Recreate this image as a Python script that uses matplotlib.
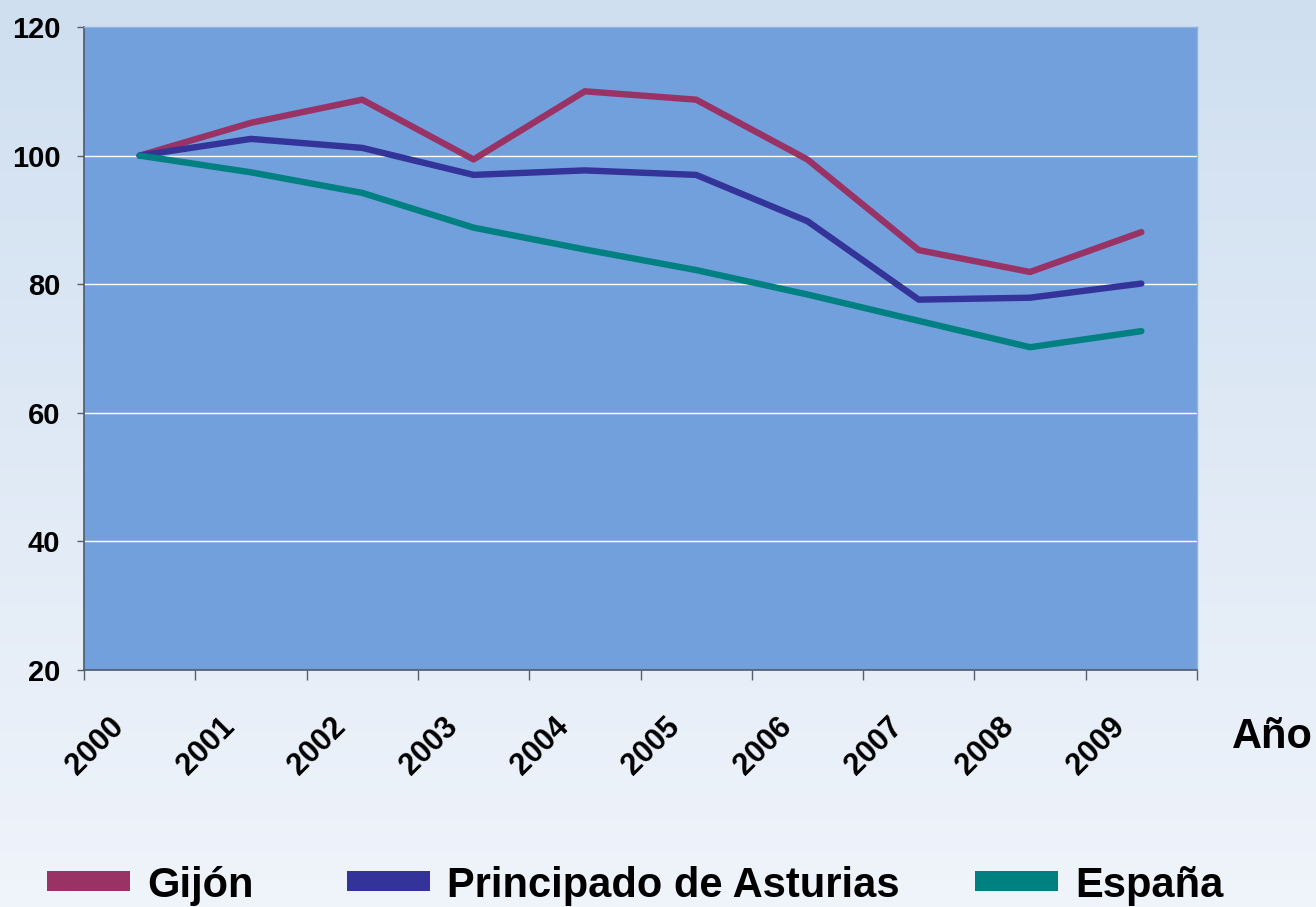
import numpy as np
import matplotlib
matplotlib.use("Agg")
import matplotlib.pyplot as plt
from matplotlib.patches import Rectangle
from matplotlib.transforms import ScaledTranslation

plt.rcParams['font.family'] = ['Liberation Sans', 'DejaVu Sans']
plt.rcParams['font.weight'] = 'bold'

# Índice base 2000 = 100
years = ['2000', '2001', '2002', '2003', '2004', '2005', '2006', '2007', '2008', '2009']
gijon = [100, 105.1, 108.7, 99.4, 110.0, 108.7, 99.4, 85.3, 81.9, 88.1]
asturias = [100, 102.6, 101.2, 97.0, 97.7, 97.0, 89.8, 77.6, 77.9, 80.1]
espana = [100, 97.4, 94.2, 88.8, 85.4, 82.2, 78.4, 74.3, 70.2, 72.7]

series_names = ['Gijón', 'Principado de Asturias', 'España']
series_values = [gijon, asturias, espana]
series_colors = ['#993366', '#333399', '#008080']

W, H = 1316, 907
fig = plt.figure(figsize=(W / 100, H / 100), dpi=100)

# degradado de fondo
bg = fig.add_axes([0, 0, 1, 1], zorder=-10)
grad = np.linspace(0, 1, 256).reshape(-1, 1)
top = np.array([0.812, 0.875, 0.941])
bottom = np.array([0.941, 0.957, 0.984])
img = top + (bottom - top) * grad[:, :, None]
bg.imshow(img, aspect='auto', extent=[0, 1, 0, 1])
bg.axis('off')

ax = fig.add_axes([84 / W, 1 - 670 / H, (1197 - 84) / W, (670 - 27) / H])
ax.set_facecolor('#72a0dc')

x = np.arange(len(years))
for vals, col in zip(series_values, series_colors):
    ax.plot(x, vals, color=col, lw=4.6, solid_capstyle='round', zorder=3)

ax.set_xlim(-0.5, len(years) - 0.5)
ax.set_ylim(20, 120)
ax.set_yticks([20, 40, 60, 80, 100, 120])
for v in [40, 60, 80, 100]:
    ax.axhline(v, color='white', lw=1, zorder=1)

ax.tick_params(axis='y', direction='out', length=5, width=1, color='#555f6e',
               pad=12, labelsize=21)

# marcas entre categorías y etiquetas centradas
ax.set_xticks(x)
ax.set_xticklabels(years, rotation=45, ha='right', va='top', fontsize=22)
ax.set_xticks(np.arange(-0.5, len(years)), minor=True)
ax.tick_params(axis='x', which='major', length=0, pad=30)
ax.tick_params(axis='x', which='minor', direction='out', length=7, width=1,
               color='#555f6e')
shift = ScaledTranslation(-10 / 100, 0, fig.dpi_scale_trans)
for lab in ax.get_xticklabels():
    lab.set_transform(lab.get_transform() + shift)

for side in ['left', 'bottom']:
    ax.spines[side].set_color('#4f5a6b')
    ax.spines[side].set_linewidth(1.2)
for side in ['top', 'right']:
    ax.spines[side].set_color('#8fb2e6')
    ax.spines[side].set_linewidth(1)

fig.text(1232 / W, 1 - 748 / H, 'Año', fontsize=30, fontweight='bold',
         ha='left', va='baseline')

# leyenda
patch_x = [47, 347, 975]
for name, col, px in zip(series_names, series_colors, patch_x):
    fig.add_artist(Rectangle((px / W, 1 - 891 / H), 83 / W, 20 / H,
                             transform=fig.transFigure, facecolor=col,
                             edgecolor='none'))
    fig.text((px + 100) / W, 1 - 897 / H, name, fontsize=30, fontweight='bold',
             ha='left', va='baseline')

fig.savefig('out.png', dpi=100)
